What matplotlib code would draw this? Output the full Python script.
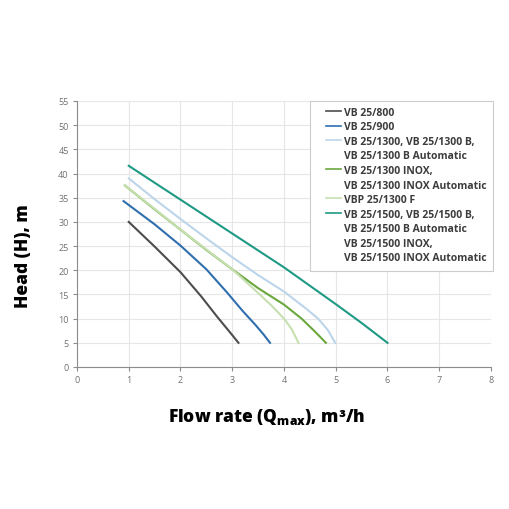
import matplotlib
matplotlib.use("Agg")
import matplotlib.pyplot as plt
from matplotlib.patches import Rectangle
from matplotlib.lines import Line2D

labels = [
    "VB 25/800",
    "VB 25/900",
    "VB 25/1300, VB 25/1300 B,\nVB 25/1300 B Automatic",
    "VB 25/1300 INOX,\nVB 25/1300 INOX Automatic",
    "VBP 25/1300 F",
    "VB 25/1500, VB 25/1500 B,\nVB 25/1500 B Automatic\nVB 25/1500 INOX,\nVB 25/1500 INOX Automatic",
]
colors = ["#4d4d4d", "#2f6fae", "#bcd5ea", "#6aa83e", "#c6e0b0", "#1e9a84"]

q_800 = [1.0, 1.5, 2.0, 2.4, 2.7, 3.0, 3.12]
h_800 = [30, 24.9, 19.6, 14.6, 10.5, 6.6, 5]
q_900 = [0.9, 1.5, 2.0, 2.5, 2.9, 3.2, 3.44, 3.6, 3.73]
h_900 = [34.3, 29.5, 25.1, 20.2, 15.4, 11.6, 8.8, 6.8, 5]
q_1300 = [1.0, 1.5, 2.0, 2.5, 3.0, 3.5, 4.0, 4.4, 4.66, 4.85, 4.99]
h_1300 = [39, 34.7, 30.6, 26.6, 22.7, 19.0, 15.6, 12.3, 10, 7.6, 5]
q_inox = [0.93, 1.5, 2.0, 2.5, 3.0, 3.5, 4.0, 4.34, 4.6, 4.81]
h_inox = [37.5, 32.6, 28.4, 24.2, 20.2, 16.3, 12.9, 10, 7.3, 5]
q_f = [0.92, 1.5, 2.0, 2.5, 3.0, 3.44, 3.75, 4.0, 4.15, 4.28]
h_f = [37.6, 32.7, 28.4, 24.3, 20.2, 15.9, 12.8, 10, 7.8, 5]
q_1500 = [1.0, 2.0, 3.0, 4.0, 5.0, 5.5, 6.0]
h_1500 = [41.6, 34.6, 27.6, 20.6, 13.0, 9.1, 5]

series = [(q_800, h_800), (q_900, h_900), (q_1300, h_1300),
          (q_inox, h_inox), (q_f, h_f), (q_1500, h_1500)]

x_ticks = [0, 1, 2, 3, 4, 5, 6, 7, 8]
y_ticks = [0, 5, 10, 15, 20, 25, 30, 35, 40, 45, 50, 55]

plt.rcParams['font.family'] = ['Open Sans', 'DejaVu Sans']

fig = plt.figure(figsize=(5.1, 5.1), dpi=100)
ax = fig.add_axes([77/510, 1 - 368/510, 414/510, 266/510])

handles, texts = [], []
for (q, h), c, lab in zip(series, colors, labels):
    ln, = ax.plot(q, h, color=c, lw=1.5, solid_joinstyle='round', zorder=2)
    for i, part in enumerate(lab.split("\n")):
        if i == 0:
            handles.append(Line2D([], [], color=c, lw=1.2))
        else:
            handles.append(Line2D([], [], color='none', lw=1.2))
        texts.append(part)

ax.set_xlim(0, 8)
ax.set_ylim(0, 55)
ax.set_xticks(x_ticks)
ax.set_yticks(y_ticks)
ax.grid(True, color="#e6e6e6", lw=0.8)
ax.set_axisbelow(True)
for s in ["top", "right"]:
    ax.spines[s].set_visible(False)
for s in ["left", "bottom"]:
    ax.spines[s].set_color("#8c8c8c")
    ax.spines[s].set_linewidth(0.8)
ax.tick_params(axis='both', colors="#8c8c8c", labelcolor="#707070", labelsize=6.5,
               length=3, width=0.8, pad=3)

ax.set_ylabel("Head (H), m", fontsize=12.5, fontweight='heavy', color='black')
ax.yaxis.set_label_coords(-0.109, 0.42)
ax.set_xlabel(r"Flow rate (Q$_{\mathregular{max}}$), m³/h", fontsize=12.5, fontweight='heavy',
              color='black')
ax.xaxis.set_label_coords(0.459, -0.147)

# legend frame
frame = Rectangle((0.563, 0.361), 0.442, 0.639, transform=ax.transAxes,
                  facecolor='white', edgecolor='#cccccc', lw=0.8, clip_on=False, zorder=4)
ax.add_patch(frame)

leg = ax.legend(handles, texts, loc='upper left', bbox_to_anchor=(0.602, 0.978), fontsize=7.5,
                frameon=False, handlelength=1.45, handletextpad=0.25, labelspacing=0.34,
                borderpad=0, borderaxespad=0)
leg.set_zorder(5)
for t in leg.get_texts():
    t.set_fontweight('bold')
    t.set_color("#3c3c3c")

fig.savefig("out.png", dpi=100, facecolor='white')
